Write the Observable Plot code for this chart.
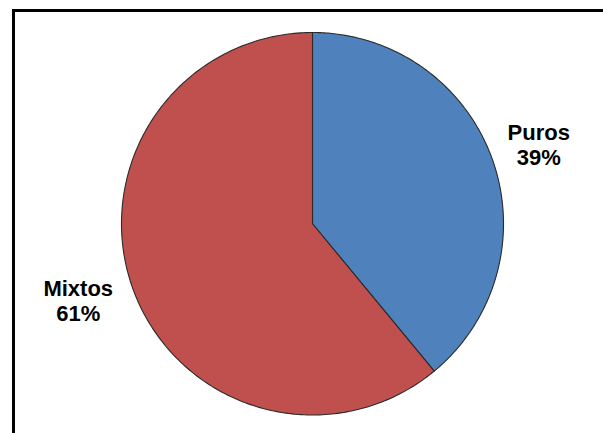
<!DOCTYPE html>
<html>
<head>
<meta charset="utf-8">
<script src="https://cdn.jsdelivr.net/npm/d3@7"></script>
<script src="https://cdn.jsdelivr.net/npm/@observablehq/plot@0.6"></script>
<style>
  html, body { margin: 0; padding: 0; background: #fff; overflow: hidden; }
  #wrap { position: relative; width: 603px; height: 433px; overflow: hidden; background: #fff; }
  #frame { position: absolute; left: 12px; top: 9px; width: 700px; height: 600px; border: 3px solid #000; box-sizing: border-box; }
  #chart { position: absolute; left: 0; top: 0; }
</style>
</head>
<body>
<div id="wrap"><div id="frame"></div><div id="chart"></div></div>
<script>
const categories = ["Puros", "Mixtos"];
const values = [39, 61];
const labels = ["Puros\n39%", "Mixtos\n61%"];
const colors = ["#4F81BD", "#C0504D"];

const pie = d3.pie().sort(null).value(d => d.value)(categories.map((c, i) => ({name: c, value: values[i], label: labels[i]})));

// build slice polygons (angles clockwise from 12 o'clock)
const points = [];
for (const s of pie) {
  const n = 240;
  points.push({name: s.data.name, x: 0, y: 0});
  for (let k = 0; k <= n; k++) {
    const a = s.startAngle + (s.endAngle - s.startAngle) * k / n;
    points.push({name: s.data.name, x: Math.sin(a), y: Math.cos(a)});
  }
  points.push({name: s.data.name, x: 0, y: 0});
}
const labelR = 1.27;
const labelData = pie.map(s => {
  const a = (s.startAngle + s.endAngle) / 2;
  return {name: s.data.name, label: s.data.label, x: labelR * Math.sin(a), y: labelR * Math.cos(a)};
});

const textOpts = {x: "x", y: "y", text: "label", fontSize: 22, fontWeight: "bold", fontFamily: "Liberation Sans, Arial, sans-serif", fill: "#000", lineHeight: 1.14, textAnchor: "middle", lineAnchor: "middle"};

const chart = Plot.plot({
  width: 603,
  height: 433,
  margin: 0,
  style: {background: "transparent", overflow: "visible"},
  x: {domain: [-1, 1], range: [121, 503], axis: null},
  y: {domain: [-1, 1], range: [414.5, 32], axis: null},
  color: {domain: categories, range: colors},
  marks: [
    Plot.line(points, {x: "x", y: "y", z: "name", fill: "name", stroke: "#2a2a2a", strokeWidth: 1.1, curve: "linear-closed"}),
    Plot.text(labelData.filter(d => d.name === "Puros"), {...textOpts, dx: -2, dy: 3}),
    Plot.text(labelData.filter(d => d.name === "Mixtos"), {...textOpts, dx: -6, dy: -6})
  ]
});
document.getElementById("chart").appendChild(chart);
</script>
</body>
</html>
